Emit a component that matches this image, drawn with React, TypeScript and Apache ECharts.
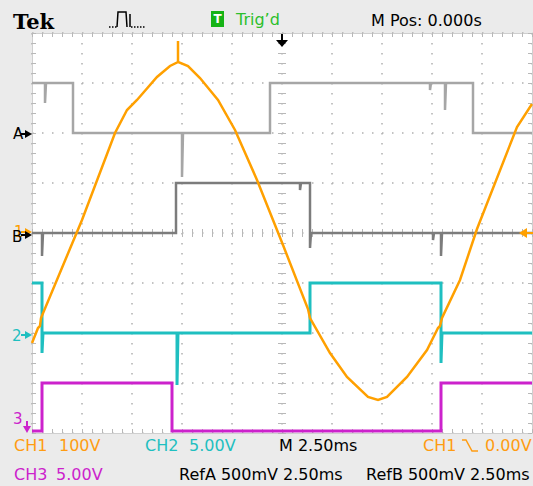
import React, { useEffect, useRef } from "react";
import * as echarts from "echarts";

// ---- time base (ms) and screen divisions ----
const X_MIN = 0;
const X_MAX = 25;
const X_DIV = 2.5;
const Y_MIN = -4;
const Y_MAX = 4;

// ---- CH1 (orange, 100 V/div, ground at centre) ----
const CH1_T = [0, 0.3, 0.4, 0.45, 2.5, 4.15, 4.75, 5.25, 6.25, 6.9, 7.3, 7.3, 7.3, 7.8, 8.4, 9.3, 10.15, 11.25, 12.55, 13.8, 13.9, 14.9, 15.75, 16.8, 17.3, 17.75, 18.75, 19.75, 20.3, 20.4, 20.5, 21.4, 22.25, 24.25, 25];
const CH1_V = [-220, -190, -186, -170, 26, 200, 246, 266, 312, 334, 342, 384, 342, 334, 310, 266, 206, 106, -24, -152, -170, -240, -288, -328, -334, -328, -288, -234, -190, -186, -170, -94, 8, 212, 258];

// ---- CH2 (cyan, 5 V/div) ----
const CH2_T = [0, 0.5, 0.5, 0.55, 7.25, 7.25, 7.3, 13.9, 13.9, 20.45, 20.45, 20.5, 25];
const CH2_V = [5, 5, -2, 0, 0, -5.2, 0, 0, 5, 5, -3, 0, 0];

// ---- CH3 (magenta, 5 V/div) ----
const CH3_T = [0, 0.5, 0.5, 7.0, 7.0, 20.45, 20.45, 25];
const CH3_V = [0, 0, 4.8, 4.8, 0, 0, 4.8, 4.8];

// ---- RefA (light grey, 500 mV/div) ----
const REFA_T = [0, 0.65, 0.65, 0.7, 2.05, 2.05, 7.5, 7.5, 7.55, 11.9, 11.9, 19.9, 19.9, 19.95, 20.65, 20.65, 20.7, 22.05, 22.05, 25];
const REFA_MV = [500, 500, 300, 500, 500, 0, 0, -440, 0, 0, 500, 500, 430, 500, 500, 230, 500, 500, 0, 0];

// ---- RefB (dark grey, 500 mV/div) ----
const REFB_T = [0, 0.5, 0.5, 0.55, 7.2, 7.2, 13.4, 13.4, 13.45, 13.9, 13.9, 13.95, 20.05, 20.05, 20.1, 20.45, 20.45, 20.5, 25];
const REFB_MV = [0, 0, -230, 0, 0, 500, 500, 430, 500, 500, -150, 0, 0, -70, 0, 0, -230, 0, 0];

// channel scale (units per division) and vertical position (divisions)
const CH1_SCALE = 100, CH1_POS = 0;
const CH2_SCALE = 5, CH2_POS = -2;
const CH3_SCALE = 5, CH3_POS = -3.96;
const REFA_SCALE = 500, REFA_POS = 2;
const REFB_SCALE = 500, REFB_POS = 0;

const toDiv = (ts: number[], vs: number[], scale: number, pos: number) =>
  ts.map((t, i) => [t, vs[i] / scale + pos]);

const ORANGE = "#ffa000";
const ORANGE_TXT = "#ff9c12";
const CYAN = "#1fbfc0";
const MAGENTA = "#cc22cc";
const REFA_C = "#a6a6a6";
const REFB_C = "#7c7c7c";
const TICK = "#b8b8b8";
const FONT = '"DejaVu Sans", sans-serif';

const GRID = { left: 32, top: 33, width: 500, height: 400 };

function xAxis(position: string, offset: number, inside: boolean, split: boolean, line: boolean) {
  return {
    type: "value",
    min: X_MIN,
    max: X_MAX,
    interval: X_DIV,
    position,
    offset,
    axisLabel: { show: false },
    axisLine: { show: line, onZero: false, lineStyle: { color: "#cfcfcf", width: 1 } },
    axisTick: { show: true, inside, length: 4, lineStyle: { color: TICK, width: 1 } },
    minorTick: { show: true, splitNumber: 5, length: 4, lineStyle: { color: TICK, width: 1 } },
    splitLine: { show: split, lineStyle: { color: "#b0b0b0", width: 1.5, type: [1.5, 8.5] } },
    minorSplitLine: { show: false },
  };
}
function yAxis(position: string, offset: number, inside: boolean, split: boolean, line: boolean) {
  return {
    type: "value",
    min: Y_MIN,
    max: Y_MAX,
    interval: 1,
    position,
    offset,
    axisLabel: { show: false },
    axisLine: { show: line, onZero: false, lineStyle: { color: "#cfcfcf", width: 1 } },
    axisTick: { show: true, inside, length: 4, lineStyle: { color: TICK, width: 1 } },
    minorTick: { show: true, splitNumber: 5, length: 4, lineStyle: { color: TICK, width: 1 } },
    splitLine: { show: split, lineStyle: { color: "#b0b0b0", width: 1.5, type: [1.5, 8.5] } },
    minorSplitLine: { show: false },
  };
}

function txt(x: number, y: number, text: string, fill: string, font = `16px ${FONT}`, align = "left", z = 100) {
  return {
    type: "text",
    x,
    y,
    z,
    style: { text, fill, font, align, verticalAlign: "middle", textAlign: align, textVerticalAlign: "middle" },
  };
}
function rightArrow(y: number, fill: string, z = 100) {
  return [
    { type: "line", z, shape: { x1: 21, y1: y, x2: 27, y2: y }, style: { stroke: fill, lineWidth: 2 } },
    { type: "polygon", z, shape: { points: [[25, y - 4], [32, y], [25, y + 4]] }, style: { fill } },
  ];
}

function lineSeries(name: string, data: number[][], color: string, width: number, z: number) {
  return {
    type: "line",
    name,
    data,
    xAxisIndex: 0,
    yAxisIndex: 0,
    showSymbol: false,
    symbol: "none",
    z,
    lineStyle: { color, width, join: "miter" },
    clip: true,
  };
}

export default function App() {
  const ref = useRef<HTMLDivElement>(null);
  useEffect(() => {
    const chart = echarts.init(ref.current as HTMLDivElement, null, { renderer: "svg" });
    const option: any = {
      animation: false,
      backgroundColor: "#ebebeb",
      grid: { ...GRID, show: true, backgroundColor: "#ffffff", borderWidth: 0, containLabel: false, outerBoundsMode: "none" },
      xAxis: [
        xAxis("bottom", 0, true, true, true),
        xAxis("top", 0, true, false, true),
        xAxis("bottom", -200, true, false, false),
        xAxis("bottom", -200, false, false, false),
      ],
      yAxis: [
        yAxis("left", 0, true, true, true),
        yAxis("right", 0, true, false, true),
        yAxis("left", -250, true, false, false),
        yAxis("left", -250, false, false, false),
      ],
      series: [
        lineSeries("RefA", toDiv(REFA_T, REFA_MV, REFA_SCALE, REFA_POS), REFA_C, 2.5, 2),
        lineSeries("RefB", toDiv(REFB_T, REFB_MV, REFB_SCALE, REFB_POS), REFB_C, 2.5, 3),
        lineSeries("CH3", toDiv(CH3_T, CH3_V, CH3_SCALE, CH3_POS), MAGENTA, 3, 4),
        lineSeries("CH2", toDiv(CH2_T, CH2_V, CH2_SCALE, CH2_POS), CYAN, 3, 5),
        lineSeries("CH1", toDiv(CH1_T, CH1_V, CH1_SCALE, CH1_POS), ORANGE, 2.5, 6),
      ],
      graphic: [
        // top status bar
        txt(13, 21, "Tek", "#000000", `bold 21px "DejaVu Serif", serif`),
        { type: "line", z: 100, shape: { x1: 109, y1: 27, x2: 117, y2: 27 }, style: { stroke: "#000", lineWidth: 1.5, lineDash: [1.5, 1.5] } },
        { type: "polyline", z: 100, shape: { points: [[117, 27], [118, 12], [126, 12], [127, 27]] }, style: { stroke: "#000", lineWidth: 1.5, fill: "none" } },
        { type: "line", z: 100, shape: { x1: 130, y1: 14, x2: 130, y2: 27 }, style: { stroke: "#000", lineWidth: 1.5 } },
        { type: "line", z: 100, shape: { x1: 131, y1: 27, x2: 146, y2: 27 }, style: { stroke: "#000", lineWidth: 1.5, lineDash: [1.5, 1.5] } },
        { type: "rect", z: 100, shape: { x: 211, y: 11, width: 13, height: 16 }, style: { fill: "#16b316" } },
        txt(217.5, 19, "T", "#ffffff", `bold 12px ${FONT}`, "center"),
        txt(236, 19, "Trig\u2019d", "#2cbf2c"),
        txt(371, 20, "M Pos: 0.000s", "#000000"),
        // trigger position arrow
        { type: "rect", z: 100, shape: { x: 281, y: 34, width: 2, height: 7 }, style: { fill: "#000" } },
        { type: "polygon", z: 100, shape: { points: [[276, 40], [288, 40], [282, 47]] }, style: { fill: "#000" } },
        // trigger level arrow (right)
        { type: "polygon", z: 100, shape: { points: [[519, 233], [527, 228], [527, 238]] }, style: { fill: ORANGE } },
        { type: "line", z: 100, shape: { x1: 526, y1: 233, x2: 533, y2: 233 }, style: { stroke: ORANGE, lineWidth: 2 } },
        // left channel markers
        txt(13, 134, "A", "#000000", `15px ${FONT}`),
        ...rightArrow(134, "#000000"),
        txt(14, 232, "1", ORANGE, `15px ${FONT}`, "left", 99),
        ...rightArrow(232, ORANGE, 99),
        txt(12, 237, "B", "#000000", `15px ${FONT}`),
        ...rightArrow(235, "#000000"),
        txt(12, 336, "2", CYAN, `15px ${FONT}`),
        ...rightArrow(335, CYAN),
        txt(13, 419, "3", MAGENTA, `15px ${FONT}`),
        { type: "line", z: 100, shape: { x1: 27, y1: 421, x2: 27, y2: 428 }, style: { stroke: MAGENTA, lineWidth: 2 } },
        { type: "polygon", z: 100, shape: { points: [[23, 426], [31, 426], [27, 433]] }, style: { fill: MAGENTA } },
        // bottom readouts
        txt(14, 445, "CH1", ORANGE_TXT),
        txt(59, 445, "100V", ORANGE_TXT),
        txt(145, 445, "CH2", CYAN),
        txt(189, 445, "5.00V", CYAN),
        txt(279, 445, "M 2.50ms", "#000000"),
        txt(423, 445, "CH1", ORANGE_TXT),
        { type: "polyline", z: 100, shape: { points: [[462, 440], [466, 440], [472, 451], [478, 451]] }, style: { stroke: ORANGE_TXT, lineWidth: 1.5, fill: "none" } },
        txt(485, 445, "0.00V", ORANGE_TXT),
        txt(14, 474, "CH3", MAGENTA),
        txt(56, 474, "5.00V", MAGENTA),
        txt(179, 474, "RefA 500mV 2.50ms", "#000000"),
        txt(366, 474, "RefB 500mV 2.50ms", "#000000"),
      ],
    };
    chart.setOption(option);
    return () => chart.dispose();
  }, []);
  return <div ref={ref} style={{ position: "fixed", left: 0, top: 0, width: 533, height: 486 }} />;
}
